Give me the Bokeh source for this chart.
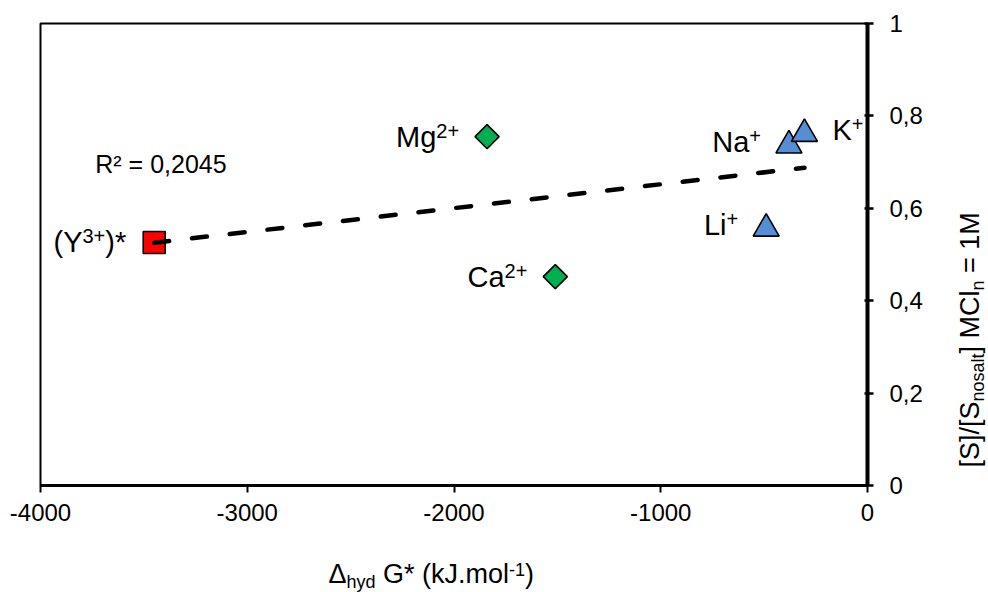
import numpy as np
from bokeh.plotting import figure
from bokeh.models import ColumnDataSource, Range1d, FixedTicker, CustomJSTickFormatter, Label
from bokeh.transform import dodge
from bokeh.layouts import row, column
from bokeh.embed import file_html
from bokeh.resources import INLINE

# ---------------- data ----------------
ion_base = ["(Y", "Mg", "Ca", "Li", "Na", "K"]
ion_sup = ["3+", "2+", "2+", "+", "+", "+"]
ion_tail = [")*", "", "", "", "", ""]
ion_group = ["trivalent", "divalent", "divalent", "monovalent", "monovalent", "monovalent"]
dG_hyd = [-3450, -1840, -1510, -490, -380, -305]          # kJ/mol
s_ratio = [0.526, 0.755, 0.452, 0.564, 0.744, 0.769]       # [S]/[S nosalt]
r2_text = "R² = 0,2045"

x_ticks = [-4000, -3000, -2000, -1000, 0]
x_tick_labels = ["-4000", "-3000", "-2000", "-1000", "0"]
y_ticks = [0, 0.2, 0.4, 0.6, 0.8, 1.0]
y_tick_labels = ["0", "0,2", "0,4", "0,6", "0,8", "1"]

x_title = [("Δ", "main"), ("hyd", "sub"), (" G* (kJ.mol", "main"), ("-1", "sup"), (")", "main")]
y_title = [("[S]/[S", "main"), ("nosalt", "sub"), ("] MCl", "main"), ("n", "sub"), (" = 1M", "main")]

# ---------------- helpers ----------------
FONT = "Liberation Sans"
_W = {' ': 278, '(': 333, ')': 333, '*': 389, '+': 584, ',': 278, '-': 333, '.': 278,
      '/': 278, '=': 584, 'C': 722, 'G': 778, 'J': 500, 'K': 667, 'L': 556, 'M': 833,
      'N': 722, 'R': 722, 'S': 667, 'Y': 667, '[': 278, ']': 278, 'a': 556, 'd': 556,
      'g': 556, 'h': 556, 'i': 222, 'k': 500, 'l': 222, 'm': 833, 'n': 556, 'o': 556,
      's': 500, 't': 278, 'y': 500, 'Δ': 668}
MID = 0.3465  # middle of the em box above the baseline, as a fraction of font size


def tw(s, size):
    return sum(_W.get(c, 556) for c in s) * size / 1000.0


# ---------------- main figure ----------------
MAIN_W, MAIN_H = 956, 544
FL, FR, FT, FB = 40, 867, 23, 485   # frame edges in page pixels
X0, X1 = -4000, 0
p = figure(width=MAIN_W, height=MAIN_H, output_backend="svg", toolbar_location=None, tools="",
           x_range=Range1d(X0, X1), y_range=Range1d(0, 1), y_axis_location="right",
           min_border_left=FL, min_border_right=MAIN_W - FR, min_border_top=FT,
           min_border_bottom=MAIN_H - FB)
p.xgrid.visible = False
p.ygrid.visible = False
p.outline_line_color = "black"
p.outline_line_width = 2
p.outline_line_alpha = 1.0
p.background_fill_color = "white"
p.border_fill_color = "white"

fmt_code = """
const i = v.findIndex((t) => Math.abs(t - tick) < 1e-6);
return i >= 0 ? l[i] : "";
"""

xa = p.xaxis[0]
xa.ticker = FixedTicker(ticks=x_ticks, minor_ticks=[])
xa.formatter = CustomJSTickFormatter(args=dict(v=x_ticks, l=x_tick_labels), code=fmt_code)
xa.axis_line_width = 3
xa.axis_line_color = "black"
xa.major_tick_line_width = 2
xa.major_tick_line_color = "black"
xa.major_tick_out = 7
xa.major_tick_in = 0
xa.minor_tick_line_color = None
xa.major_label_text_font = FONT
xa.major_label_text_font_size = "24px"
xa.major_label_text_color = "black"
xa.major_label_standoff = 11

ya = p.yaxis[0]
ya.ticker = FixedTicker(ticks=y_ticks, minor_ticks=[])
ya.formatter = CustomJSTickFormatter(args=dict(v=y_ticks, l=y_tick_labels), code=fmt_code)
ya.axis_line_width = 4
ya.axis_line_color = "black"
ya.major_tick_line_width = 2.5
ya.major_tick_line_color = "black"
ya.major_tick_out = 6
ya.major_tick_in = 3
ya.minor_tick_line_color = None
ya.major_label_text_font = FONT
ya.major_label_text_font_size = "24px"
ya.major_label_text_color = "black"
ya.major_label_standoff = 16


def subset(g):
    idx = [i for i, gg in enumerate(ion_group) if gg == g]
    return ColumnDataSource(dict(x=[dG_hyd[i] for i in idx], y=[s_ratio[i] for i in idx]))


p.scatter(x="x", y="y", source=subset("trivalent"), marker="square", size=22,
          fill_color="#FF0000", line_color="black", line_width=1.6)
p.scatter(x="x", y="y", source=subset("divalent"), marker="square", angle=np.pi / 4, size=17,
          fill_color="#00B050", line_color="black", line_width=1.6)
p.scatter(x="x", y=dodge("y", -0.008, range=p.y_range), source=subset("monovalent"),
          marker="triangle", size=26, fill_color="#558ED5", line_color="black", line_width=1.6)

# linear trend line (least squares on the data)
coef = np.polyfit(dG_hyd, s_ratio, 1)
fit_x = [min(dG_hyd), max(dG_hyd)]
fit_y = [float(v) for v in np.polyval(coef, fit_x)]
p.line(fit_x, fit_y, line_color="black", line_width=4.5, line_dash="15 23", line_cap="round")

# ---------------- point labels (with superscripts) ----------------
MAIN, SUP, GAP = 29, 20, 28
px, py, pt, pxo, pyo, psz, pal = [], [], [], [], [], [], []


def add_piece(i, text, xo, yo, size, align):
    px.append(dG_hyd[i]); py.append(s_ratio[i]); pt.append(text)
    pxo.append(xo); pyo.append(yo); psz.append(f"{size}px"); pal.append(align)


for i in range(len(ion_base)):
    if ion_base[i] == "K":
        add_piece(i, ion_base[i], GAP, 0, MAIN, "left")
        add_piece(i, ion_sup[i], GAP + tw(ion_base[i], MAIN), -6, SUP, "left")
    else:
        end = -GAP
        if ion_tail[i]:
            add_piece(i, ion_tail[i], end, 0, MAIN, "right")
            end -= tw(ion_tail[i], MAIN)
        add_piece(i, ion_sup[i], end, -6, SUP, "right")
        end -= tw(ion_sup[i], SUP)
        add_piece(i, ion_base[i], end, 0, MAIN, "right")

lab_src = ColumnDataSource(dict(x=px, y=py, text=pt, xo=pxo, yo=pyo, size=psz, align=pal))
p.text(x="x", y="y", text="text", source=lab_src, x_offset="xo", y_offset="yo",
       text_font_size="size", text_align="align", text_baseline="middle",
       text_font={"value": FONT}, text_color="black")

p.add_layout(Label(x=-3735, y=0.695, text=r2_text, text_font=FONT, text_font_size="25px",
                   text_baseline="middle", text_align="left", text_color="black"))

# ---------------- axis titles (composed for sub/superscripts) ----------------
F, f = 27, 18
SIZES = {"main": F, "sub": f, "sup": f}
SHIFT = {"main": 0, "sub": 5, "sup": -8}   # baseline shift, in the text's "down" direction


def layout_pieces(pieces, start):
    """(position, text, size, shift) with SVG-collapsible spaces handled manually."""
    out, pos = [], start
    for txt, kind in pieces:
        sz = SIZES[kind]
        lead = len(txt) - len(txt.lstrip(" "))
        core = txt.strip(" ")
        trail = len(txt) - lead - len(core)
        pos += tw(" " * lead, sz)
        out.append((pos, core, sz, SHIFT[kind]))
        pos += tw(core, sz) + tw(" " * trail, sz)
    return out


def px_to_x(pxv):
    return X0 + (pxv - FL) * (X1 - X0) / (FR - FL)


# x title strip below the main figure; shares the main x range and frame borders
XT_H = 592 - MAIN_H
xt = figure(width=MAIN_W, height=XT_H, output_backend="svg", toolbar_location=None, tools="",
            x_range=p.x_range, y_range=Range1d(0, XT_H),
            x_axis_location=None, y_axis_location=None,
            min_border_left=FL, min_border_right=MAIN_W - FR, min_border_top=0, min_border_bottom=0)
xt.xgrid.visible = False
xt.ygrid.visible = False
xt.outline_line_color = None
xt.background_fill_color = "white"
xt.border_fill_color = "white"

BASE_X = 583   # page y of the title baseline
tx, ty, tt, ts = [], [], [], []
for pos, txt, sz, sh in layout_pieces(x_title, 328):
    anchor_page_y = BASE_X + sh - MID * sz
    tx.append(px_to_x(pos)); ty.append(592 - anchor_page_y); tt.append(txt); ts.append(f"{sz}px")
xt.text(x="x", y="y", text="text", source=ColumnDataSource(dict(x=tx, y=ty, text=tt, size=ts)),
        text_font_size="size", text_align="left", text_baseline="middle",
        text_font={"value": FONT}, text_color="black")

# y title strip right of the main figure (rotated, reads bottom to top)
YT_W = 988 - MAIN_W
yt = figure(width=YT_W, height=592, output_backend="svg", toolbar_location=None, tools="",
            x_range=Range1d(0, YT_W), y_range=Range1d(0, 592),
            x_axis_location=None, y_axis_location=None, min_border=0)
yt.xgrid.visible = False
yt.ygrid.visible = False
yt.outline_line_color = None
yt.background_fill_color = "white"
yt.border_fill_color = "white"

BASE_Y = 979   # page x of the rotated title baseline
ux, uy, ut, us = [], [], [], []
for pos, txt, sz, sh in layout_pieces(y_title, 592 - 467):
    anchor_page_x = BASE_Y + sh - MID * sz
    ux.append(anchor_page_x - MAIN_W); uy.append(pos); ut.append(txt); us.append(f"{sz}px")
yt.text(x="x", y="y", text="text", source=ColumnDataSource(dict(x=ux, y=uy, text=ut, size=us)),
        angle=np.pi / 2, text_font_size="size", text_align="left", text_baseline="middle",
        text_font={"value": FONT}, text_color="black")

layout = row(column(p, xt, spacing=0), yt, spacing=0)
open("out.html", "w").write(file_html(layout, INLINE, title="plot"))
